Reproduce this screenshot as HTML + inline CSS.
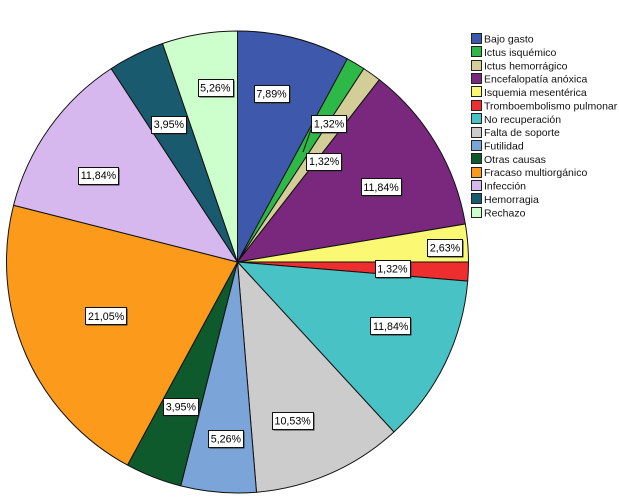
<!DOCTYPE html>
<html>
<head>
<meta charset="utf-8">
<title>Causas de muerte</title>
<style>
html,body{margin:0;padding:0;background:#fff;width:619px;height:497px;overflow:hidden}
svg{display:block;font-family:"Liberation Sans",sans-serif}
</style>
</head>
<body>
<svg id="chart" width="619" height="497" viewBox="0 0 619 497" xmlns="http://www.w3.org/2000/svg"></svg>
<script>
const categories = ["Bajo gasto","Ictus isquémico","Ictus hemorrágico","Encefalopatía anóxica","Isquemia mesentérica","Tromboembolismo pulmonar","No recuperación","Falta de soporte","Futilidad","Otras causas","Fracaso multiorgánico","Infección","Hemorragia","Rechazo"];
const values = [7.89,1.32,1.32,11.84,2.63,1.32,11.84,10.53,5.26,3.95,21.05,11.84,3.95,5.26];
const colors = ["#3e58ac","#2eb848","#d3ce97","#79287d","#fbf873","#ed2d2e","#48c2c5","#cccccc","#7ba4d9","#0e5a2c","#fb9a1b","#d6b8ee","#1a5a6e","#ccffcc"];
const labelAngleShift = [-2.8,2.7,5.1,3.2,0.8,0.0,-3.4,4.5,-1,0.1,1.4,-3.5,-0.4,2.2];
const labelRadius = [172,166,133,162,208,155,166,168,177,155,142,164,154,176];

const NS = "http://www.w3.org/2000/svg";
const svg = document.getElementById("chart");
const cx = 237.5, cy = 262, R = 231;
const total = values.reduce((a,b)=>a+b,0);

function make(tag, attrs, parent){
  const el = document.createElementNS(NS, tag);
  for (const k in attrs) el.setAttribute(k, attrs[k]);
  (parent || svg).appendChild(el);
  return el;
}
function angleOf(v){ return v / total * 2 * Math.PI; }
function polar(a, r){ return [cx + r * Math.sin(a), cy - r * Math.cos(a)]; }
function fmt(v){ return v.toFixed(2).replace(".", ",") + "%"; }

let cum = 0;
const mids = [];
values.forEach(function(v, i){
  const a0 = angleOf(cum), a1 = angleOf(cum + v);
  cum += v;
  mids.push((a0 + a1) / 2);
  const p0 = polar(a0, R), p1 = polar(a1, R);
  const large = (a1 - a0) > Math.PI ? 1 : 0;
  const s = make("path", {
    d: "M" + cx + " " + cy + "L" + p0[0] + " " + p0[1] + "A" + R + " " + R + " 0 " + large + " 1 " + p1[0] + " " + p1[1] + "Z",
    fill: colors[i], stroke: "#111", "stroke-width": 1, "stroke-linejoin": "round"
  });
  
  
});

values.forEach(function(v, i){
  const a = mids[i] + labelAngleShift[i] * Math.PI / 180;
  const c = polar(a, labelRadius[i]);
  const g = make("g", {});
  
  
  if (i === 1) {
    const target = polar(mids[i], 128);
    const ln = make("line", {x1: c[0] - 17, y1: c[1] + 3, x2: target[0], y2: target[1], stroke: "#111", "stroke-width": 1}, g);
    
    
  }
  const shadow = make("rect", {fill: "#333"}, g);
  const box = make("rect", {fill: "#fff", stroke: "#111", "stroke-width": 1}, g);
  const t = make("text", {x: c[0], y: c[1] + 4, "text-anchor": "middle", "font-size": "10.7", fill: "#000"}, g);
  t.textContent = fmt(v);
  const w = t.getComputedTextLength() + 5, h = 17;
  const x = Math.round(c[0] - w / 2) + 0.5, y = Math.round(c[1] - h / 2) + 0.5, rw = Math.round(w);
  [["x", x + 1], ["y", y + 1], ["width", rw], ["height", h]].forEach(function(p){ shadow.setAttribute(p[0], p[1]); });
  [["x", x], ["y", y], ["width", rw], ["height", h]].forEach(function(p){ box.setAttribute(p[0], p[1]); });
});

const legend = make("g", {});


categories.forEach(function(name, i){
  const yc = 39 + i * 13.36;
  const row = make("g", {}, legend);
  
  
  const sw = make("rect", {x: 471.5, y: Math.round(yc - 6) + 0.5, width: 10, height: 10, fill: colors[i], stroke: "#222", "stroke-width": 1}, row);
  
  
  const t = make("text", {x: 484, y: yc + 3.6, "font-size": "10.5", fill: "#111"}, row);
  
  
  t.textContent = name;
});
</script>
</body>
</html>
